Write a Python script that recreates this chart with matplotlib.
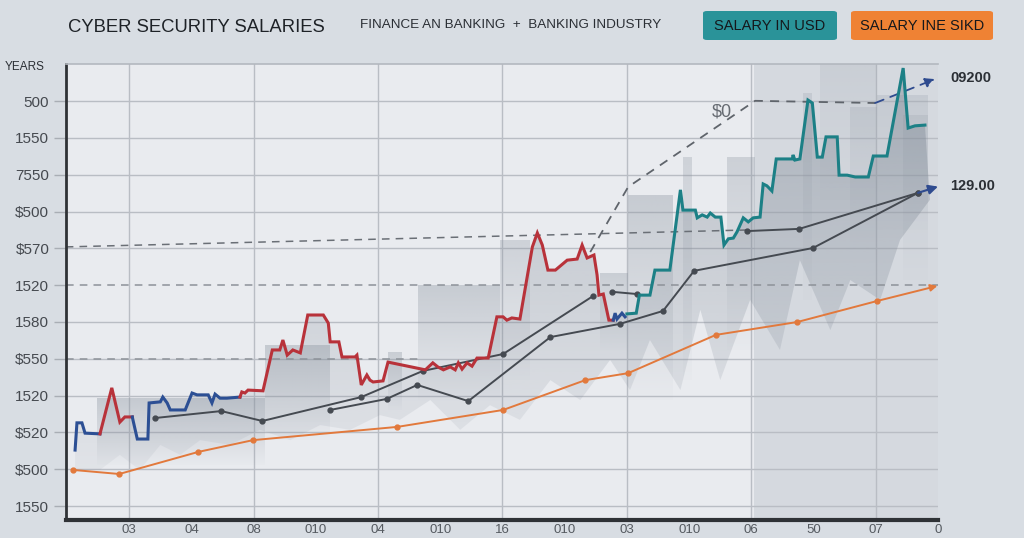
import numpy as np
import matplotlib
matplotlib.use("Agg")
import matplotlib.pyplot as plt
import matplotlib.colors as mcolors
from matplotlib.patches import Polygon, FancyBboxPatch
from matplotlib import font_manager as fm

# ---------------- data (x in tick units, y in level units) ----------------
x_tick_labels = ["03", "04", "08", "010", "04", "010", "16", "010", "03", "010", "06", "50", "07", "0"]
y_tick_labels = ["1550", "$500", "$520", "1520", "$550", "1580", "1520", "$570", "$500", "7550", "1550", "500"]

blue1_x = [0.13, 0.16, 0.24, 0.29, 0.53]
blue1_y = [1.52, 2.26, 2.26, 1.98, 1.96]
red1_x = [0.53, 0.72, 0.85, 0.93, 1.05]
red1_y = [1.96, 3.21, 2.28, 2.42, 2.42]
blue2_x = [1.05, 1.06, 1.13, 1.30, 1.32, 1.50, 1.54, 1.61, 1.66, 1.77, 1.90, 2.01, 2.09, 2.27, 2.33, 2.38, 2.46, 2.57, 2.78]
blue2_y = [2.42, 2.34, 1.82, 1.82, 2.80, 2.83, 2.96, 2.80, 2.61, 2.61, 2.61, 3.07, 3.02, 3.02, 2.80, 3.04, 2.93, 2.93, 2.96]
red2_x = [2.78, 2.81, 2.86, 2.91, 3.15, 3.30, 3.42, 3.47, 3.54, 3.63, 3.75, 3.87, 4.12, 4.20, 4.23, 4.37, 4.42, 4.63, 4.66,
          4.73, 4.82, 4.87, 4.92, 5.08, 5.16, 5.76, 5.88, 5.96, 6.05, 6.16, 6.24, 6.29, 6.35, 6.43, 6.51, 6.59, 6.77, 6.91,
          7.01, 7.07, 7.15, 7.28, 7.48, 7.56, 7.64, 7.73, 7.85, 8.04, 8.20, 8.28, 8.36, 8.47, 8.52, 8.55, 8.62, 8.71, 8.78]
red2_y = [2.96, 3.10, 3.07, 3.15, 3.13, 4.24, 4.24, 4.51, 4.10, 4.24, 4.16, 5.19, 5.19, 4.97, 4.46, 4.46, 4.05, 4.05, 4.10,
          3.29, 3.56, 3.42, 3.37, 3.40, 3.91, 3.70, 3.89, 3.78, 3.70, 3.78, 3.70, 3.89, 3.72, 3.89, 3.80, 4.02, 4.02, 5.14,
          5.14, 5.05, 5.11, 5.08, 7.04, 7.42, 7.09, 6.41, 6.41, 6.68, 6.71, 7.09, 6.74, 6.82, 6.28, 5.73, 5.76, 5.05, 5.05]
blue3_x = [8.78, 8.81, 8.84, 8.92, 8.97]
blue3_y = [5.05, 5.24, 5.08, 5.24, 5.14]
teal_x = [9.00, 9.15, 9.20, 9.37, 9.45, 9.69, 9.86, 9.90, 10.10, 10.13, 10.21, 10.29, 10.34, 10.42, 10.51, 10.56, 10.63,
          10.71, 10.77, 10.87, 10.95, 11.03, 11.14, 11.19, 11.25, 11.33, 11.40, 11.66, 11.67, 11.70, 11.78, 11.91, 11.98,
          12.06, 12.14, 12.20, 12.38, 12.41, 12.54, 12.67, 12.88, 12.96, 13.18, 13.44, 13.52, 13.63, 13.79]
teal_y = [5.22, 5.24, 5.73, 5.73, 6.41, 6.41, 8.59, 8.04, 8.04, 7.83, 7.91, 7.85, 7.96, 7.85, 7.85, 7.09, 7.26,
          7.28, 7.45, 7.83, 7.72, 7.83, 7.85, 8.75, 8.70, 8.56, 9.43, 9.43, 9.54, 9.40, 9.43, 11.03, 10.95,
          9.48, 9.48, 10.03, 10.03, 8.99, 8.99, 8.94, 8.94, 9.51, 9.51, 11.90, 10.27, 10.33, 10.35]

dark1_x = [1.41, 2.48, 3.14, 4.73, 5.72, 7.01, 8.46]
dark1_y = [2.39, 2.58, 2.31, 2.96, 3.67, 4.13, 5.71]
dark2_x = [4.23, 5.14, 5.63, 6.45, 7.77, 8.89, 9.58, 10.08, 11.99, 13.68]
dark2_y = [2.61, 2.91, 3.29, 2.85, 4.59, 4.95, 5.30, 6.39, 7.01, 8.51]
dark3_x = [10.93, 11.77, 13.68]
dark3_y = [7.47, 7.53, 8.51]
dark4_x = [8.76, 9.16]
dark4_y = [5.82, 5.76]

orange_x = [0.10, 0.84, 2.11, 2.99, 5.31, 7.01, 8.33, 9.02, 10.43, 11.74, 13.02, 13.99]
orange_y = [0.98, 0.87, 1.47, 1.79, 2.15, 2.61, 3.42, 3.61, 4.65, 5.00, 5.57, 5.98]

trend_x = [8.41, 9.02, 11.06, 12.99, 13.95]
trend_y = [6.90, 8.67, 11.01, 10.95, 11.60]
slope_x = [-0.02, 10.93]
slope_y = [7.04, 7.50]

floor_x = [0.13, 0.53, 0.85, 1.17, 1.50, 1.82, 2.14, 2.62, 3.10, 3.59, 4.07, 4.55, 5.03, 5.35, 5.84, 6.32, 6.80, 7.28,
           7.77, 8.25, 8.73, 9.05, 9.37, 9.86, 10.18, 10.50, 10.98, 11.46, 11.78, 12.27, 12.59, 13.07, 13.39, 13.87]
floor_y = [0.98, 0.98, 1.39, 0.98, 1.66, 1.39, 1.79, 1.66, 2.07, 1.79, 2.20, 2.07, 2.47, 2.34, 2.88, 2.07, 2.74, 2.34,
           3.42, 2.88, 3.97, 3.15, 4.51, 3.15, 5.33, 3.42, 5.60, 4.24, 6.68, 4.78, 6.14, 5.60, 7.23, 8.32]

block_x0 = [0.48, 3.18, 5.16, 5.64, 6.96, 8.57, 9.02, 9.90, 10.61, 11.83, 12.11, 12.59, 13.02, 13.44]
block_x1 = [3.18, 4.23, 5.39, 6.96, 7.44, 9.02, 9.74, 10.05, 11.06, 11.98, 13.02, 13.02, 13.84, 13.84]
block_top = [2.93, 4.38, 4.18, 6.01, 7.23, 6.33, 8.45, 9.48, 9.48, 11.22, 12.04, 10.84, 11.17, 10.63]
block_bot = [1.11, 1.79, 2.61, 2.88, 3.42, 4.24, 2.88, 3.42, 4.24, 5.60, 8.32, 6.96, 7.50, 6.14]
block_alpha = [0.40, 0.40, 0.35, 0.38, 0.30, 0.35, 0.38, 0.30, 0.32, 0.22, 0.16, 0.20, 0.22, 0.20]

shade_start = 11.04

# ---------------- fonts ----------------
names = {f.name for f in fm.fontManager.ttflist}
narrow = "Liberation Sans Narrow" in names
FONT = "Liberation Sans Narrow" if narrow else "Liberation Sans"
plt.rcParams["font.family"] = [FONT, "DejaVu Sans"]

fig = plt.figure(figsize=(10.24, 5.38), dpi=100, facecolor="#d8dde3")
ax = fig.add_axes([66 / 1024, 18 / 538, 872 / 1024, 456 / 538])
ax.set_facecolor("#e9ebef")
XL = (-0.016, 14.0)
YL = (-0.38, 12.01)


def grad_fill(verts, color, a_top, a_bot, z):
    poly = Polygon(verts, closed=True, fc="none", ec="none")
    ax.add_patch(poly)
    xs = [v[0] for v in verts]
    ys = [v[1] for v in verts]
    n = 64
    img = np.zeros((n, 1, 4))
    img[:, 0, :3] = mcolors.to_rgb(color)
    img[:, 0, 3] = np.linspace(a_bot, a_top, n)
    im = ax.imshow(img, extent=[min(xs), max(xs), min(ys), max(ys)], origin="lower",
                   aspect="auto", zorder=z, interpolation="bilinear")
    im.set_clip_path(poly)


# right darker region
ax.axvspan(shade_start, XL[1], color="#cdd2d9", alpha=0.7, zorder=0.2, lw=0)

# grid
for i in range(len(y_tick_labels)):
    if i == 6:
        continue
    ax.axhline(i, color="#b9bdc4", lw=1.0, zorder=0.5)
for k in range(1, 14, 2):
    ax.axvline(k, color="#b9bdc4", lw=1.0, zorder=0.5)

# blocks
for x0, x1, t, b, a in zip(block_x0, block_x1, block_top, block_bot, block_alpha):
    grad_fill([(x0, b), (x0, t), (x1, t), (x1, b)], "#8f98a3", a, 0.02, 1)

# band under the main lines
main_x = blue1_x + red1_x + blue2_x + red2_x + blue3_x + teal_x
main_y = blue1_y + red1_y + blue2_y + red2_y + blue3_y + teal_y
band = list(zip(main_x, main_y)) + list(zip(floor_x[::-1], floor_y[::-1]))
grad_fill(band, "#7d8794", 0.45, 0.08, 1.2)

# dashed reference lines
ax.plot([XL[0], XL[1]], [6, 6], color="#8d9299", lw=1.1, ls=(0, (5, 4)), zorder=2)
ax.plot([XL[0], 5.68], [4, 4], color="#8d9299", lw=1.1, ls=(0, (5, 4)), zorder=2)
ax.plot(slope_x, slope_y, color="#6a6f76", lw=1.1, ls=(0, (5, 4)), zorder=2)
ax.plot(trend_x[:-1], trend_y[:-1], color="#5f646b", lw=1.3, ls=(0, (5, 4)), zorder=2)
ax.annotate("", xy=(trend_x[-1], trend_y[-1]), xytext=(trend_x[-2], trend_y[-2]),
            arrowprops=dict(arrowstyle="-|>", color="#2f4b8f", lw=1.3, ls=(0, (5, 4)),
                            mutation_scale=14, shrinkA=0, shrinkB=0), annotation_clip=False, zorder=3)

# dark lines
for xs, ys in [(dark1_x, dark1_y), (dark2_x, dark2_y), (dark3_x, dark3_y), (dark4_x, dark4_y)]:
    ax.plot(xs, ys, color="#454a51", lw=1.4, marker="o", ms=3.5, zorder=4)
ax.annotate("", xy=(14.0, 8.68), xytext=(13.68, 8.51),
            arrowprops=dict(arrowstyle="-|>", color="#2f4b8f", lw=1.5, mutation_scale=14,
                            shrinkA=0, shrinkB=0), annotation_clip=False, zorder=5)

# orange line
ax.plot(orange_x[:-1], orange_y[:-1], color="#e2793c", lw=1.4, marker="o", ms=3.5, zorder=4)
ax.annotate("", xy=(orange_x[-1], orange_y[-1]), xytext=(orange_x[-2], orange_y[-2]),
            arrowprops=dict(arrowstyle="-|>", color="#e2793c", lw=1.4, mutation_scale=10,
                            shrinkA=0, shrinkB=0), annotation_clip=False, zorder=4)

# main step lines
kw = dict(lw=2.2, zorder=5, solid_joinstyle="miter")
ax.plot(blue1_x, blue1_y, color="#2c4f94", **kw)
ax.plot(red1_x, red1_y, color="#b8323a", **kw)
ax.plot(blue2_x, blue2_y, color="#2c4f94", **kw)
ax.plot(red2_x, red2_y, color="#b8323a", **kw)
ax.plot(blue3_x, blue3_y, color="#2c4f94", **kw)
ax.plot(teal_x, teal_y, color="#1c8086", **kw)

# labels inside / right
ax.text(10.53, 10.71, "$0", fontsize=13, color="#666b72", ha="center", va="center", zorder=6)
ax.text(14.2, 11.63, "09200", fontsize=10.5, color="#2b2f35", ha="left", va="center",
        fontweight="bold", clip_on=False)
ax.text(14.2, 8.70, "129.00", fontsize=10.5, color="#2b2f35", ha="left", va="center",
        fontweight="bold", clip_on=False)

# axes
ax.set_xlim(*XL)
ax.set_ylim(*YL)
ax.set_yticks(range(len(y_tick_labels)))
ax.set_yticklabels(y_tick_labels, fontsize=13 if narrow else 11, color="#45494f")
ax.set_xticks(range(1, 15))
ax.set_xticklabels(x_tick_labels, fontsize=11 if narrow else 9.5, color="#555a60")
ax.tick_params(axis="y", length=9, width=1, color="#a9aeb5", pad=3)
ax.tick_params(axis="x", length=0, pad=3)
ax.spines["right"].set_visible(False)
ax.spines["top"].set_color("#b3b8bf")
ax.spines["top"].set_linewidth(1.2)
ax.spines["left"].set_color("#2f3236")
ax.spines["left"].set_linewidth(2.0)
ax.spines["bottom"].set_color("#2f3236")
ax.spines["bottom"].set_linewidth(3.0)

fig.text(5 / 1024, 1 - 67 / 538, "YEARS", fontsize=10.5 if narrow else 8.5, color="#2b2f35",
         ha="left", va="center")

# header
fig.text(68 / 1024, 1 - 27 / 538, "CYBER SECURITY SALARIES", fontsize=16 if narrow else 13.3,
         color="#1e2227", ha="left", va="center")
fig.text(360 / 1024, 1 - 25 / 538, "FINANCE AN BANKING  +  BANKING INDUSTRY", fontsize=11.5 if narrow else 9.7,
         color="#2b2f35", ha="left", va="center")
for x0, x1, fc, label in [(703, 837, "#2a9399", "SALARY IN USD"), (851, 993, "#ef8234", "SALARY INE SIKD")]:
    box = FancyBboxPatch((x0 / 1024, 1 - 40 / 538), (x1 - x0) / 1024, 29 / 538,
                         boxstyle="round,pad=0,rounding_size=0.004", transform=fig.transFigure,
                         fc=fc, ec="none", zorder=2)
    fig.add_artist(box)
    fig.text((x0 + x1) / 2 / 1024, 1 - 25.5 / 538, label, fontsize=13 if narrow else 10.5,
             color="#15181c", ha="center", va="center", zorder=3)

fig.savefig("out.png", dpi=100, facecolor=fig.get_facecolor())
